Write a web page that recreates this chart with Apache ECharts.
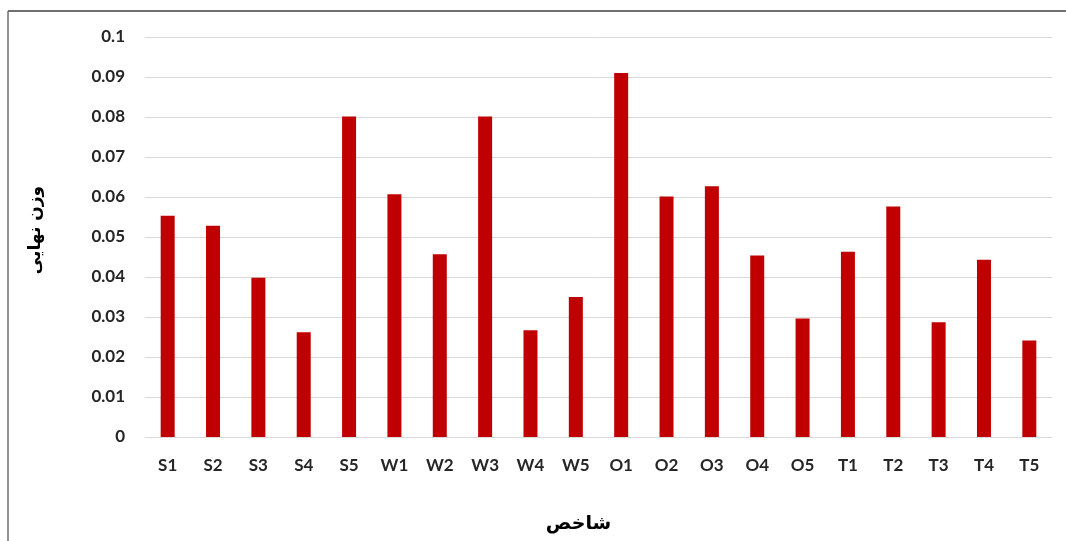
<!DOCTYPE html>
<html>
<head>
<meta charset="utf-8">
<script src="https://cdn.jsdelivr.net/npm/echarts@6/dist/echarts.min.js"></script>
<style>
  html, body { margin: 0; padding: 0; background: #fff; }
  #chart { width: 1066px; height: 541px; }
</style>
</head>
<body>
<div id="chart"></div>
<script>
const categories = ['S1', 'S2', 'S3', 'S4', 'S5', 'W1', 'W2', 'W3', 'W4', 'W5',
  'O1', 'O2', 'O3', 'O4', 'O5', 'T1', 'T2', 'T3', 'T4', 'T5']
const weights = [0.0553, 0.0528, 0.0398, 0.0262, 0.0801, 0.0607, 0.0457, 0.0801, 0.0267, 0.0350,
  0.0910, 0.0601, 0.0627, 0.0454, 0.0296, 0.0463, 0.0576, 0.0287, 0.0443, 0.0241]
const yTicks = { min: 0, max: 0.1, interval: 0.01 }

const chart = echarts.init(document.getElementById('chart'))

chart.setOption({
  animation: false,
  textStyle: { fontFamily: 'Lato, "DejaVu Sans", sans-serif' },
  graphic: [
    // frame: only top and left edges are visible in the picture
    { type: 'line', shape: { x1: 8, y1: 11, x2: 1066, y2: 11 }, style: { stroke: '#6f6f6f', lineWidth: 2 } },
    { type: 'line', shape: { x1: 8, y1: 11, x2: 8, y2: 541 }, style: { stroke: '#6f6f6f', lineWidth: 1.5 } }
  ],
  grid: {
    left: 145,
    right: 14,
    top: 37,
    bottom: 104,
    outerBoundsMode: 'none'
  },
  xAxis: {
    type: 'category',
    data: categories,
    name: 'شاخص',
    nameLocation: 'middle',
    nameGap: 78,
    nameTextStyle: {
      fontFamily: '"DejaVu Sans", sans-serif',
      fontSize: 19,
      fontWeight: 'bold',
      color: '#000',
      padding: [0, 40, 0, 0]
    },
    axisTick: { show: false },
    axisLine: { lineStyle: { color: '#d9d9d9', width: 1 } },
    axisLabel: {
      color: '#262626',
      fontSize: 17,
      fontWeight: 'bold',
      margin: 20
    }
  },
  yAxis: {
    type: 'value',
    min: yTicks.min,
    max: yTicks.max,
    interval: yTicks.interval,
    name: 'وزن نهایی',
    nameLocation: 'middle',
    nameGap: 101,
    nameTextStyle: {
      fontFamily: '"DejaVu Sans", sans-serif',
      fontSize: 17,
      fontWeight: 'bold',
      color: '#000',
      padding: [0, 0, 0, 14]
    },
    axisLine: { show: false },
    axisTick: { show: false },
    axisLabel: {
      color: '#262626',
      fontSize: 17,
      fontWeight: 'bold',
      margin: 20,
      formatter: (v) => String(+v.toFixed(2))
    },
    splitLine: { lineStyle: { color: '#d9d9d9', width: 1 } }
  },
  series: [
    {
      type: 'bar',
      data: weights,
      barWidth: 14,
      itemStyle: { color: '#c00000' }
    }
  ]
})
</script>
</body>
</html>
